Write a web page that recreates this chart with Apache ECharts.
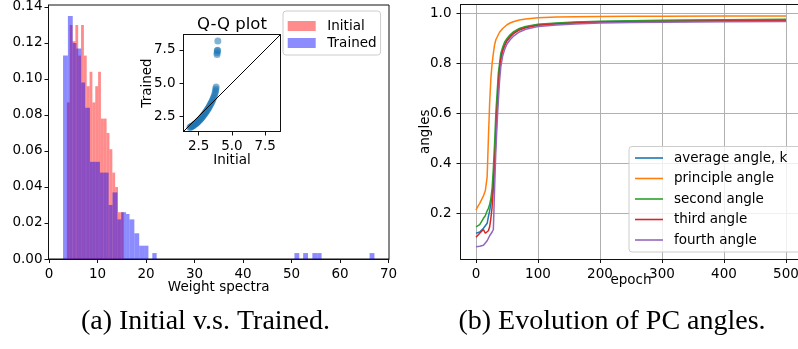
<!DOCTYPE html>
<html>
<head>
<meta charset="utf-8">
<script src="https://cdn.jsdelivr.net/npm/echarts@6.0.0/dist/echarts.min.js"></script>
<style>
html, body { margin: 0; padding: 0; background: #fff; }
#main { width: 798px; height: 349px; }
</style>
</head>
<body>
<div id="main"></div>
<script>
// (a) histogram of weight spectra
var initialEdges = [3.68, 4.27, 4.85, 5.44, 6.02, 6.61, 7.20, 7.78, 8.37, 8.95, 9.54,
    10.13, 10.71, 11.30, 11.88, 12.47, 13.06, 13.64, 14.23, 14.81, 15.40];
var initialHeights = [0.087, 0.130, 0.121, 0.130, 0.113, 0.130, 0.113, 0.096, 0.104, 0.087,
    0.096, 0.104, 0.078, 0.078, 0.070, 0.061, 0.048, 0.040, 0.026, 0.026];
// [left, right, density]
var trainedBars = [
    [2.9, 3.9, 0.113], [3.9, 4.9, 0.135], [4.9, 5.65, 0.120], [5.65, 6.65, 0.117],
    [6.65, 7.45, 0.098], [7.45, 8.45, 0.084], [8.45, 9.5, 0.054], [9.5, 10.5, 0.054],
    [10.5, 11.3, 0.048], [11.3, 12.3, 0.048], [12.3, 13.1, 0.030], [13.1, 14.1, 0.037],
    [14.1, 14.9, 0.022], [14.9, 15.9, 0.026], [15.9, 16.6, 0.025], [16.6, 17.6, 0.022],
    [17.6, 18.6, 0.0143], [18.6, 19.6, 0.0074], [19.6, 20.5, 0.0074], [21.3, 22.2, 0.0033],
    [50.6, 51.6, 0.0033], [52.4, 53.4, 0.0033], [54.3, 55.3, 0.0033], [55.3, 56.2, 0.0033],
    [66.1, 67.1, 0.0033]
];
var histXTicks = [0, 10, 20, 30, 40, 50, 60, 70];
var histYTicks = [0, 0.02, 0.04, 0.06, 0.08, 0.10, 0.12, 0.14];

// inset Q-Q plot: [initial, trained]
var qqPoints = [
    [1.84, 1.66], [1.90, 1.70], [1.95, 1.73], [2.00, 1.76], [2.05, 1.79], [2.10, 1.82],
    [2.15, 1.86], [2.20, 1.90], [2.25, 1.94], [2.30, 1.97], [2.35, 2.01], [2.40, 2.06],
    [2.45, 2.11], [2.50, 2.16], [2.55, 2.21], [2.60, 2.26], [2.65, 2.32], [2.70, 2.38],
    [2.75, 2.44], [2.80, 2.50], [2.85, 2.57], [2.90, 2.63], [2.95, 2.70], [3.00, 2.77],
    [3.05, 2.84], [3.10, 2.91], [3.15, 2.99], [3.20, 3.07], [3.25, 3.15], [3.30, 3.24],
    [3.35, 3.33], [3.40, 3.42], [3.45, 3.52], [3.50, 3.62], [3.55, 3.73], [3.60, 3.85],
    [3.65, 3.98], [3.70, 4.12], [3.74, 4.27], [3.77, 4.42], [3.79, 4.56], [3.81, 4.70],
    [3.88, 7.14], [3.89, 7.28], [3.90, 7.42], [3.92, 7.46], [3.94, 8.16]
];
var qqRange = [1.36, 8.65];
var qqTicks = [2.5, 5.0, 7.5];

// (b) PC angles over epochs
var epochs = [0, 3, 6, 9, 12, 15, 18, 20, 22, 24, 26, 28, 30, 32, 34, 36, 38, 40, 43, 46,
    50, 55, 60, 70, 80, 100, 130, 160, 200, 250, 300, 400, 500];
var averageAngle = [0.120, 0.125, 0.125, 0.133, 0.140, 0.142, 0.160, 0.187, 0.210, 0.240, 0.270,
    0.330, 0.410, 0.530, 0.620, 0.720, 0.780, 0.820, 0.855, 0.875, 0.895, 0.910, 0.922, 0.938,
    0.946, 0.955, 0.960, 0.964, 0.967, 0.969, 0.971, 0.973, 0.975];
var principleAngle = [0.213, 0.228, 0.240, 0.246, 0.270, 0.290, 0.346, 0.500, 0.640, 0.740, 0.800,
    0.840, 0.875, 0.895, 0.905, 0.915, 0.925, 0.932, 0.940, 0.948, 0.955, 0.962, 0.967, 0.974,
    0.978, 0.983, 0.986, 0.987, 0.988, 0.989, 0.989, 0.990, 0.990];
var secondAngle = [0.146, 0.150, 0.155, 0.160, 0.180, 0.190, 0.210, 0.220, 0.235, 0.260, 0.300,
    0.380, 0.480, 0.600, 0.680, 0.760, 0.800, 0.840, 0.865, 0.885, 0.900, 0.915, 0.926, 0.940,
    0.948, 0.957, 0.962, 0.966, 0.969, 0.971, 0.973, 0.975, 0.977];
var thirdAngle = [0.104, 0.110, 0.120, 0.125, 0.135, 0.120, 0.113, 0.130, 0.146, 0.180, 0.226,
    0.300, 0.390, 0.490, 0.610, 0.700, 0.775, 0.815, 0.850, 0.870, 0.890, 0.905, 0.918, 0.934,
    0.943, 0.953, 0.958, 0.962, 0.965, 0.967, 0.968, 0.970, 0.972];
var fourthAngle = [0.066, 0.070, 0.068, 0.070, 0.072, 0.073, 0.090, 0.100, 0.110, 0.118, 0.125,
    0.135, 0.300, 0.450, 0.560, 0.650, 0.730, 0.786, 0.830, 0.855, 0.878, 0.895, 0.908, 0.926,
    0.937, 0.948, 0.954, 0.958, 0.962, 0.964, 0.965, 0.967, 0.968];
var angleXTicks = [0, 100, 200, 300, 400, 500];
var angleYTicks = [0.2, 0.4, 0.6, 0.8, 1.0];

var chart = echarts.init(document.getElementById('main'));

function pairs(xs, ys) {
    return xs.map(function (x, i) { return [x, ys[i]]; });
}

var initialBars = initialHeights.map(function (h, i) {
    return [initialEdges[i], initialEdges[i + 1], h];
});

function renderBar(params, api) {
    var p0 = api.coord([api.value(0), api.value(2)]);
    var p1 = api.coord([api.value(1), 0]);
    return {
        type: 'rect',
        shape: { x: p0[0], y: p0[1], width: p1[0] - p0[0], height: p1[1] - p0[1] },
        style: api.style()
    };
}

var ink = '#111';
var font = 'DejaVu Sans';

function axisBase(ticks, fmt, extra) {
    var ax = {
        type: 'value',
        nameMoveOverlap: false,
        axisLine: { show: true, onZero: false, lineStyle: { color: ink, width: 1 } },
        axisTick: { show: true, inside: false, length: 4, customValues: ticks, lineStyle: { color: ink } },
        axisLabel: { customValues: ticks, color: '#000', fontSize: 13.5, fontFamily: font,
            formatter: fmt },
        splitLine: { show: false }
    };
    for (var k in extra) ax[k] = extra[k];
    return ax;
}

var names = ['average angle, k', 'principle angle', 'second angle', 'third angle', 'fourth angle'];
var colors = ['#1f77b4', '#ff7f0e', '#2ca02c', '#d62728', '#9467bd'];
var angleData = [averageAngle, principleAngle, secondAngle, thirdAngle, fourthAngle];

var option = {
    animation: false,
    textStyle: { fontFamily: font },
    grid: [
        { left: 48.5, top: 5, width: 340.5, height: 254, show: true, borderColor: ink, borderWidth: 1,
          outerBoundsMode: 'none', containLabel: false },
        { left: 183.5, top: 34.5, width: 97, height: 97, show: true, borderColor: ink, borderWidth: 1,
          backgroundColor: '#fff', z: 5, outerBoundsMode: 'none', containLabel: false },
        { left: 460.5, top: 4.5, width: 341, height: 254.5, show: false,
          outerBoundsMode: 'none', containLabel: false }
    ],
    xAxis: [
        axisBase(histXTicks, function (v) { return String(v); }, {
            gridIndex: 0, min: -0.1, max: 70.1,
            name: 'Weight spectra', nameLocation: 'middle', nameGap: 21,
            nameTextStyle: { fontSize: 13.5, color: '#000' }
        }),
        axisBase(qqTicks, function (v) { return v.toFixed(1); }, {
            gridIndex: 1, min: qqRange[0], max: qqRange[1], z: 6,
            name: 'Initial', nameLocation: 'middle', nameGap: 21.5,
            nameTextStyle: { fontSize: 13.5, color: '#000' }
        }),
        axisBase(angleXTicks, function (v) { return String(v); }, {
            gridIndex: 2, min: -25, max: 525,
            name: 'epoch', nameLocation: 'middle', nameGap: 14,
            nameTextStyle: { fontSize: 13.5, color: '#000' },
            splitLine: { show: true, lineStyle: { color: '#b0b0b0', width: 1 } }
        }),
        {
            // top spine of panel (b)
            type: 'value', gridIndex: 2, position: 'top', min: -25, max: 525,
            axisLine: { show: true, lineStyle: { color: ink, width: 1 } },
            axisTick: { show: false }, axisLabel: { show: false }, splitLine: { show: false }
        }
    ],
    yAxis: [
        axisBase(histYTicks, function (v) { return v.toFixed(2); }, {
            gridIndex: 0, min: 0, max: 0.1411,
            axisLabel: { customValues: histYTicks, color: '#000', fontSize: 13.5, fontFamily: font,
                margin: 6, formatter: function (v) { return v.toFixed(2); } }
        }),
        axisBase(qqTicks, function (v) { return v.toFixed(1); }, {
            gridIndex: 1, min: qqRange[0], max: qqRange[1], z: 6,
            name: 'Trained', nameLocation: 'middle', nameGap: 29,
            nameTextStyle: { fontSize: 13.5, color: '#000' }
        }),
        axisBase(angleYTicks, function (v) { return v.toFixed(1); }, {
            gridIndex: 2, min: 0.017, max: 1.036,
            axisLabel: { customValues: angleYTicks, color: '#000', fontSize: 13.5, fontFamily: font,
                margin: 9, formatter: function (v) { return v.toFixed(1); } },
            name: 'angles', nameLocation: 'middle', nameGap: 28.5,
            nameTextStyle: { fontSize: 13.5, color: '#000' },
            splitLine: { show: true, lineStyle: { color: '#b0b0b0', width: 1 } }
        })
    ],
    legend: [
        {
            data: [{ name: 'Initial', icon: 'rect' }, { name: 'Trained', icon: 'rect' }],
            orient: 'vertical', left: 283, top: 11,
            itemWidth: 28, itemHeight: 10, itemGap: 3,
            padding: [8, 4, 5, 4.7],
            backgroundColor: 'rgba(255,255,255,0.8)', borderColor: '#cccccc', borderWidth: 1, borderRadius: 3,
            textStyle: { fontSize: 13.5, color: '#000', fontFamily: font, padding: [0, 0, 0, 6.6] },
            z: 10
        },
        {
            data: names.map(function (n) { return { name: n, icon: 'rect' }; }),
            orient: 'vertical', left: 629, top: 146.5,
            itemWidth: 28, itemHeight: 1.6, itemGap: 6.5,
            padding: [4.5, 40, 5, 6],
            backgroundColor: 'rgba(255,255,255,0.8)', borderColor: '#cccccc', borderWidth: 1, borderRadius: 3,
            textStyle: { fontSize: 13.5, color: '#000', fontFamily: font, padding: [0, 0, 0, 6] },
            z: 10
        }
    ],
    graphic: [
        { type: 'text', x: 232, y: 25, z: 10, style: { text: 'Q-Q plot', fontSize: 16.5, fontFamily: font,
            fill: '#000', textAlign: 'center', textVerticalAlign: 'middle' } },
        { type: 'text', x: 205.5, y: 322, style: { text: '(a) Initial v.s. Trained.', fontSize: 28,
            fontFamily: 'Liberation Serif', fill: '#000', textAlign: 'center', textVerticalAlign: 'middle' } },
        { type: 'text', x: 612, y: 322, style: { text: '(b) Evolution of PC angles.', fontSize: 28,
            fontFamily: 'Liberation Serif', fill: '#000', textAlign: 'center', textVerticalAlign: 'middle' } }
    ],
    series: [
        {
            name: 'Initial', type: 'custom', xAxisIndex: 0, yAxisIndex: 0,
            renderItem: renderBar, encode: { x: [0, 1], y: 2 },
            itemStyle: { color: 'rgba(255,0,0,0.45)' }, data: initialBars
        },
        {
            name: 'Trained', type: 'custom', xAxisIndex: 0, yAxisIndex: 0,
            renderItem: renderBar, encode: { x: [0, 1], y: 2 },
            itemStyle: { color: 'rgba(0,0,255,0.45)' }, data: trainedBars
        },
        {
            type: 'scatter', xAxisIndex: 1, yAxisIndex: 1, z: 6, symbolSize: 7,
            itemStyle: { color: 'rgba(31,119,180,0.7)' }, data: qqPoints
        },
        {
            type: 'line', xAxisIndex: 1, yAxisIndex: 1, z: 7, symbol: 'none',
            lineStyle: { color: '#000', width: 1 },
            data: [[qqRange[0], qqRange[0]], [qqRange[1], qqRange[1]]]
        }
    ].concat(angleData.map(function (vals, i) {
        return {
            name: names[i], type: 'line', xAxisIndex: 2, yAxisIndex: 2,
            symbol: 'none', color: colors[i],
            lineStyle: { color: colors[i], width: 1.5 },
            data: pairs(epochs, vals)
        };
    }))
};

chart.setOption(option);
</script>
</body>
</html>
